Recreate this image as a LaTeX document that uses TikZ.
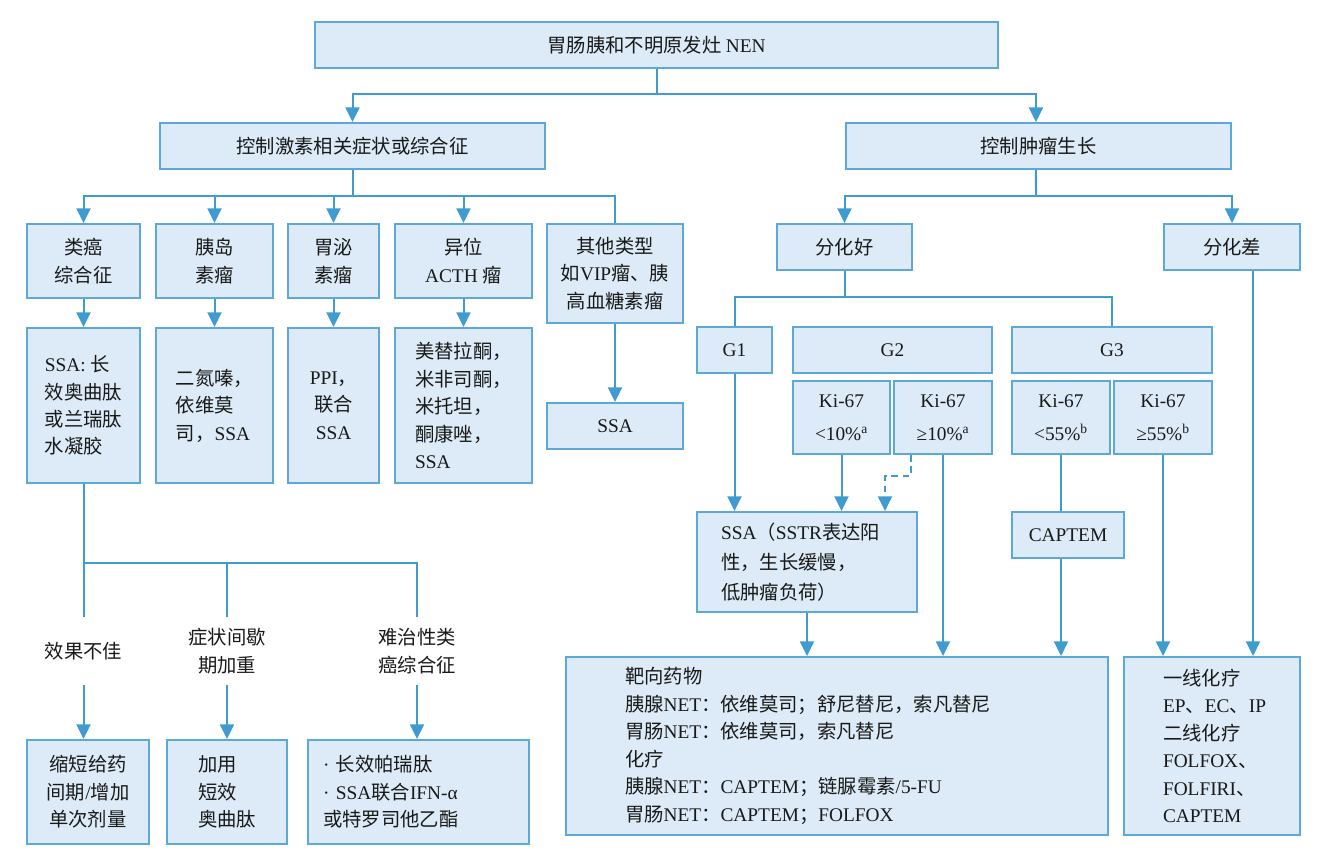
\documentclass[tikz,border=0pt]{standalone}
\usepackage{fontspec}
\setmainfont{Liberation Serif}
\newfontfamily\cjk{Noto Sans CJK SC}
\usetikzlibrary{arrows.meta}
\newXeTeXintercharclass\zhclass
\newcount\zhc
\newcommand\zhrange[2]{\zhc=#1 \loop\XeTeXcharclass\zhc=\zhclass\ifnum\zhc<#2 \advance\zhc by 1 \repeat}
\zhrange{"3000}{"303F}
\zhrange{"4E00}{"9FFF}
\zhrange{"FF00}{"FFEF}
\XeTeXinterchartoks 0 \zhclass = {\cjk}
\XeTeXinterchartoks 4095 \zhclass = {\cjk}
\XeTeXinterchartoks \zhclass 0 = {\rmfamily}
\XeTeXinterchartoks 4095 0 = {\rmfamily}
\definecolor{bfill}{RGB}{220,235,247}
\definecolor{bline}{RGB}{92,168,214}
\definecolor{cline}{RGB}{64,156,208}
\definecolor{txt}{RGB}{25,25,25}
\newcommand\fs{\fontsize{14.5pt}{20.6pt}\selectfont}
\begin{document}
\XeTeXinterchartokenstate=1
\begin{tikzpicture}[x=0.75pt,y=-0.75pt,
  box/.style={draw=bline, fill=bfill, line width=1.4pt, text=txt, font=\fs, align=center, inner sep=2pt},
  bx/.style 2 args={minimum width=#1*0.75pt, minimum height=#2*0.75pt},
  line/.style={draw=cline, line width=1.5pt},
  arr/.style={line, -{Triangle[width=10.5pt,length=11pt]}},
  lbl/.style={text=txt, font=\fs, align=center, inner sep=0pt, minimum height=51pt}]
\useasboundingbox (0,0) rectangle (1325,853);
\fill[white] (0,0) rectangle (1325,853);

% top levels
\node[box,bx={683}{46}] (top) at (656.5,45) {胃肠胰和不明原发灶 NEN};
\node[box,bx={385}{46}] (hor) at (352.5,146) {控制激素相关症状或综合征};
\node[box,bx={385}{46}] (tum) at (1038.5,146) {控制肿瘤生长};

% left: syndromes
\node[box,bx={113}{74}] (c1) at (83.5,261) {类癌\\综合征};
\node[box,bx={117}{74}] (c2) at (214.5,261) {胰岛\\素瘤};
\node[box,bx={91}{74}] (c3) at (333.5,261) {胃泌\\素瘤};
\node[box,bx={137}{74}] (c4) at (463.5,261) {异位\\ACTH 瘤};
\node[box,bx={136}{99}] (c5) at (615,273.5) {其他类型\\如VIP瘤、胰\\高血糖素瘤};

\node[box,bx={113}{155},align=left] (d1) at (83.5,405.5) {SSA: 长\\效奥曲肽\\或兰瑞肽\\水凝胶};
\node[box,bx={117}{155},align=left] (d2) at (214.5,405.5) {二氮嗪，\\依维莫\\司，SSA};
\node[box,bx={91}{155}] (d3) at (333.5,405.5) {PPI，\\联合\\SSA};
\node[box,bx={137}{155},align=left] (d4) at (463.5,405.5) {美替拉酮，\\米非司酮，\\米托坦，\\酮康唑，\\SSA};
\node[box,bx={136}{46}] (d5) at (615,426) {SSA};

\node[lbl] (l1) at (83.5,651) {效果不佳};
\node[lbl] (l2) at (227,651) {症状间歇\\期加重};
\node[lbl] (l3) at (417,651) {难治性类\\癌综合征};

\node[box,bx={122}{104}] (e1) at (88,792) {缩短给药\\间期/增加\\单次剂量};
\node[box,bx={120}{104},align=left] (e2) at (227,792) {加用\\短效\\奥曲肽};
\node[box,minimum height=78pt,align=left,text width=143.25pt,inner xsep=11.25pt] (e3) at (418.5,792) {· 长效帕瑞肽\\· SSA联合IFN-α\\或特罗司他乙酯};

% right: tumour growth
\node[box,bx={135}{46}] (f1) at (844.5,247) {分化好};
\node[box,bx={136}{46}] (f2) at (1232,247) {分化差};

\node[box,bx={75}{46}] (g1) at (734.5,350) {G1};
\node[box,bx={199}{46}] (g2) at (892.5,350) {G2};
\node[box,bx={200}{46}] (g3) at (1112,350) {G3};

\node[box,bx={97}{73}] (k1) at (841.5,417.5) {Ki-67\\[4pt]<10\%\textsuperscript{a}};
\node[box,bx={98}{73}] (k2) at (943,417.5) {Ki-67\\[4pt]≥10\%\textsuperscript{a}};
\node[box,bx={98}{73}] (k3) at (1061,417.5) {Ki-67\\[4pt]<55\%\textsuperscript{b}};
\node[box,bx={98}{73}] (k4) at (1163,417.5) {Ki-67\\[4pt]≥55\%\textsuperscript{b}};

\node[box,minimum height=75pt,align=left,text width=129pt,inner xsep=18pt] (ssa) at (807,562) {SSA（SSTR表达阳\\[2pt]性，生长缓慢，\\[2pt]低肿瘤负荷）};
\node[box,bx={112}{46}] (cap) at (1068,535) {CAPTEM};

\node[box,minimum height=133.5pt,align=left,text width=318pt,inner xsep=44.25pt] (big) at (837,746) {靶向药物\\胰腺NET：依维莫司；舒尼替尼，索凡替尼\\胃肠NET：依维莫司，索凡替尼\\化疗\\胰腺NET：CAPTEM；链脲霉素/5-FU\\胃肠NET：CAPTEM；FOLFOX};
\node[box,minimum height=133.5pt,align=left,text width=73.5pt,inner xsep=29.25pt] (chemo) at (1212,746) {一线化疗\\EP、EC、IP\\二线化疗\\FOLFOX、\\FOLFIRI、\\CAPTEM};

% connectors: top
\coordinate (jt) at (656.5,94);
\draw[line] (top.south) -- (jt);
\draw[arr] (jt) -| (hor.north);
\draw[arr] (jt) -| ([xshift=-1.9pt]tum.north);

% left branch
\coordinate (jl) at (352.5,196);
\draw[line] (hor.south) -- (jl);
\draw[arr] (jl) -| (c1.north);
\draw[arr] (jl) -| (c2.north);
\draw[arr] (jl) -| (c3.north);
\draw[arr] (jl) -| (c4.north);
\draw[line] (jl) -| (c5.north);
\draw[arr] (c1.south) -- (d1.north);
\draw[arr] (c2.south) -- (d2.north);
\draw[arr] (c3.south) -- (d3.north);
\draw[arr] (c4.south) -- (d4.north);
\draw[arr] (c5.south) -- (d5.north);

\coordinate (jd1) at (83.5,563);
\coordinate (jd3) at (417,563);
\draw[line] (d1.south) -- (jd1) -- (jd3) -- (l3.north);
\draw[line] (jd1) -- (l1.north);
\draw[line] (l2.north |- jd1) -- (l2.north);
\draw[arr] (l1.south) -- (l1.south |- e1.north);
\draw[arr] (l2.south) -- (l2.south |- e2.north);
\draw[arr] (l3.south) -- (l3.south |- e3.north);

% right branch
\coordinate (jr) at (1036,196);
\draw[line] ([xshift=-1.9pt]tum.south) -- (jr);
\draw[arr] (jr) -| (f1.north);
\draw[arr] (jr) -| (f2.north);

\coordinate (jg) at (844.5,297);
\draw[line] (f1.south) -- (jg);
\draw[line] (jg) -| (g1.north);
\draw[line] (jg) -| (g3.north);

\draw[arr] (g1.south) -- (g1.south |- ssa.north);
\draw[arr] (k1.south) -- (k1.south |- ssa.north);
\draw[arr,dash pattern=on 5pt off 3.5pt] ([xshift=-24pt]k2.south) -- ++(0,21) -| ([xshift=58.5pt]ssa.north);
\draw[arr] (k2.south) -- (k2.south |- big.north);
\draw[arr] (ssa.south) -- (ssa.south |- big.north);
\draw[line] (k3.south) -- (k3.south |- cap.north);
\draw[arr] (k3.south |- cap.south) -- (k3.south |- big.north);
\draw[arr] (k4.south) -- (k4.south |- chemo.north);
\draw[arr] ([xshift=15.75pt]f2.south) -- ([xshift=15.75pt]f2.south |- chemo.north);
\end{tikzpicture}
\end{document}
